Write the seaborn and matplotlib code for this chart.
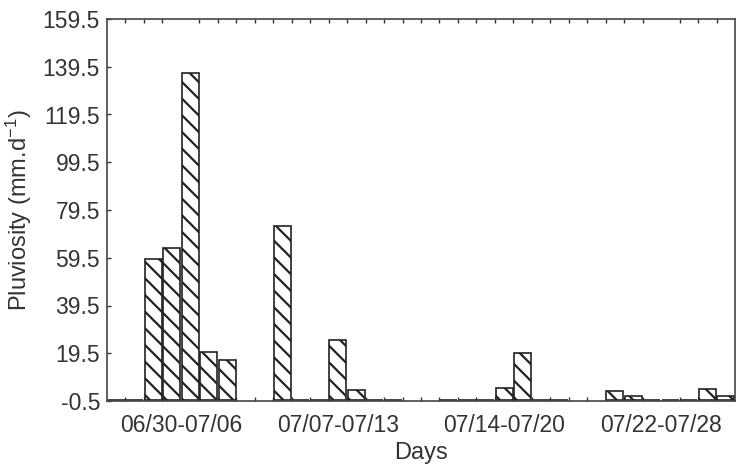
import matplotlib
matplotlib.use("Agg")
import matplotlib.pyplot as plt
import seaborn as sns
import pandas as pd

# ---- data ----
weeks = ["06/30-07/06", "07/07-07/13", "07/14-07/20", "07/22-07/28"]
week1 = [0, 0, 59.0, 63.5, 137.0, 20.0, 16.7]
week2 = [72.9, 0, 0, 25.0, 4.1, 0, 0]
week3 = [0, 0, 0, 4.8, 19.5, 0, 0]
week4 = [3.8, 1.4, 0, 0, 0, 4.4, 1.6]
yticks = [-0.5, 19.5, 39.5, 59.5, 79.5, 99.5, 119.5, 139.5, 159.5]

series = [week1, week2, week3, week4]
rows = []
for g, vals in enumerate(series):
    for d, v in enumerate(vals):
        rows.append({"pos": g * 9 + d + 0.5, "value": v, "week": weeks[g]})
df = pd.DataFrame(rows)

sns.set_style("white")
plt.rcParams["font.family"] = ["Liberation Sans", "DejaVu Sans"]
plt.rcParams["mathtext.default"] = "regular"
plt.rcParams["hatch.linewidth"] = 1.6
plt.rcParams["hatch.color"] = "#222222"

fig = plt.figure(figsize=(7.36, 4.71), dpi=100)
ax = fig.add_axes([107 / 736, (471 - 401) / 471, (735 - 107) / 736, (401 - 19) / 471])

sns.barplot(data=df, x="pos", y="value", native_scale=True, color="white",
            saturation=1, edgecolor="#222222", linewidth=1.2, width=0.92,
            errorbar=None, ax=ax)
for p in ax.patches:
    p.set_hatch("\\\\")

ax.set_xlim(0, 34)
ax.set_ylim(-0.5, 159.5)
ax.set_yticks(yticks)
ax.set_yticklabels([f"{t:.1f}" for t in yticks])

centers = [4, 12.5, 21.5, 30]
ax.set_xticks(centers)
ax.set_xticklabels(weeks)
ax.set_xticks(range(1, 34), minor=True)
ax.tick_params(axis="x", which="major", length=0, pad=9, labelsize=16.5, colors="#333333")
ax.tick_params(axis="x", which="minor", direction="in", length=3, width=1,
               top=True, bottom=True, color="#333333")
ax.tick_params(axis="y", which="major", direction="in", length=3, width=1,
               left=True, right=False, labelsize=16.5, pad=5, colors="#333333")

for s in ax.spines.values():
    s.set_visible(True)
    s.set_color("#444444")
    s.set_linewidth(1.2)

ax.set_xlabel("Days", fontsize=17, color="#333333", labelpad=4)
ax.set_ylabel("Pluviosity (mm.d$^{-1}$)", fontsize=17, color="#333333", labelpad=6)

fig.savefig("out.png", dpi=100)
